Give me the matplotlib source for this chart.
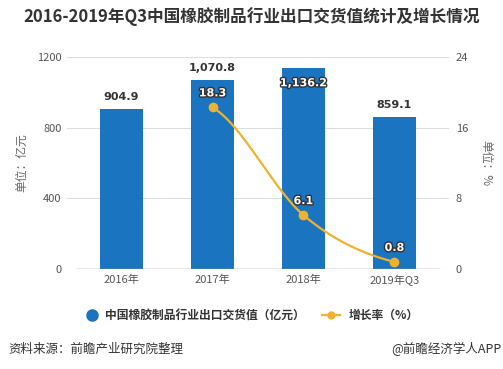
import numpy as np
import matplotlib
matplotlib.use("Agg")
import matplotlib.pyplot as plt
import matplotlib.patheffects as pe

plt.rcParams['font.family'] = ['Noto Sans CJK SC', 'DejaVu Sans']

categories = ["2016年", "2017年", "2018年", "2019年Q3"]
export_values = [904.9, 1070.8, 1136.2, 859.1]
export_labels = ["904.9", "1,070.8", "1,136.2", "859.1"]
growth_idx = [1, 2, 3]
growth_values = [18.3, 6.1, 0.8]
growth_labels = ["18.3", "6.1", "0.8"]
left_ticks = [0, 400, 800, 1200]
right_ticks = [0, 8, 16, 24]

BLUE = "#1B74C0"
GOLD = "#EDB22F"
W, H = 503, 369

fig = plt.figure(figsize=(W / 100, H / 100), dpi=100)
fig.patch.set_facecolor("white")
ax = fig.add_axes([67 / W, (H - 269) / H, (449 - 67) / W, (269 - 57) / H])
ax2 = ax.twinx()

x = np.arange(len(categories))
ax.bar(x, export_values, width=0.47, color=BLUE, zorder=2)
ax.set_xlim(-0.6, 3.6)
ax.set_ylim(0, 1200)
ax.set_yticks(left_ticks)
ax.set_yticklabels([str(t) for t in left_ticks])
ax.set_xticks(x)
ax.set_xticklabels(categories)
for s in ax.spines.values():
    s.set_visible(False)
for s in ax2.spines.values():
    s.set_visible(False)
ax.tick_params(axis="y", length=0, pad=4, labelsize=8, labelcolor="#555555")
ax.tick_params(axis="x", length=0, pad=4, labelsize=8, labelcolor="#555555")
for t in left_ticks[1:]:
    ax.axhline(t, color="#DDDDDD", lw=0.8, zorder=0)
ax.axhline(0, color="#DDDDDD", lw=0.8, zorder=0)
ax.plot([-0.5, 3.5], [0, 0], color="#999999", lw=1.0, zorder=3, solid_capstyle="butt")

ax2.set_ylim(0, 24)
ax2.set_yticks(right_ticks)
ax2.set_yticklabels([str(t) for t in right_ticks])
ax2.tick_params(axis="y", length=0, pad=5, labelsize=8, labelcolor="#555555")

# bar value labels
for i, (v, lab) in enumerate(zip(export_values, export_labels)):
    if v > 1100:
        ax.annotate(lab, (i, v), xytext=(0, -15), textcoords="offset pixels",
                    ha="center", va="center", fontsize=8, fontweight="bold",
                    color="white", family=["DejaVu Sans"], zorder=6,
                    path_effects=[pe.withStroke(linewidth=2, foreground="#333333")])
    else:
        ax.annotate(lab, (i, v), xytext=(0, 12), textcoords="offset pixels",
                    ha="center", va="center", fontsize=8, fontweight="bold",
                    color="#333333", family=["DejaVu Sans"], zorder=6)

# smooth growth line (Catmull-Rom rendering through the data points)
px = np.array(growth_idx, dtype=float)
py = np.array(growth_values, dtype=float)
ext_x = np.concatenate([[2 * px[0] - px[1]], px, [2 * px[-1] - px[-2]]])
ext_y = np.concatenate([[py[0]], py, [py[-1]]])
cx, cy = [], []
for k in range(1, len(ext_x) - 2):
    p0, p1, p2, p3 = [np.array([ext_x[j], ext_y[j]]) for j in (k - 1, k, k + 1, k + 2)]
    t = np.linspace(0, 1, 40)[:, None]
    c = 0.5 * ((2 * p1) + (-p0 + p2) * t + (2 * p0 - 5 * p1 + 4 * p2 - p3) * t ** 2
               + (-p0 + 3 * p1 - 3 * p2 + p3) * t ** 3)
    cx.extend(c[:, 0]); cy.extend(c[:, 1])
ax2.plot(cx, cy, color=GOLD, lw=1.6, zorder=4)
ax2.plot(px, py, "o", color=GOLD, ms=6, zorder=5)
for xi, yi, lab in zip(px, py, growth_labels):
    ax2.annotate(lab, (xi, yi), xytext=(0, 14), textcoords="offset pixels",
                 ha="center", va="center", fontsize=8, fontweight="bold",
                 color="white", family=["DejaVu Sans"], zorder=6,
                 path_effects=[pe.withStroke(linewidth=2, foreground="#333333")])
ax.set_zorder(1)
ax2.set_zorder(2)
ax2.patch.set_visible(False)

# axis unit labels
fig.text(22 / W, 1 - 163 / H, "单位：亿元", rotation=90, ha="center", va="center",
         fontsize=8.5, color="#666666")
fig.text(486 / W, 1 - 163 / H, "单位：%", rotation=-90, ha="center", va="center",
         fontsize=8.5, color="#666666")

# title
fig.text(252 / W, 1 - 17 / H, "2016-2019年Q3中国橡胶制品行业出口交货值统计及增长情况",
         ha="center", va="center", fontsize=12, fontweight="bold", color="#333333")

# legend
fig.lines.append(plt.Line2D([92 / W], [1 - 315 / H], marker="o", ms=8, color=BLUE,
                            transform=fig.transFigure))
fig.text(105 / W, 1 - 315 / H, "中国橡胶制品行业出口交货值（亿元）", ha="left", va="center",
         fontsize=8.5, fontweight="bold", color="#333333")
fig.lines.append(plt.Line2D([322 / W, 340 / W], [1 - 315 / H, 1 - 315 / H], lw=1.6,
                            color=GOLD, transform=fig.transFigure))
fig.lines.append(plt.Line2D([331 / W], [1 - 315 / H], marker="o", ms=5, color=GOLD,
                            transform=fig.transFigure))
fig.text(349 / W, 1 - 315 / H, "增长率（%）", ha="left", va="center",
         fontsize=8.5, fontweight="bold", color="#333333")

# footer
fig.text(8 / W, 1 - 349 / H, "资料来源：前瞻产业研究院整理", ha="left", va="center",
         fontsize=9, color="#333333")
fig.text(501 / W, 1 - 349 / H, "@前瞻经济学人APP", ha="right", va="center",
         fontsize=9, color="#333333")

fig.savefig("out.png", dpi=100, facecolor="white")
